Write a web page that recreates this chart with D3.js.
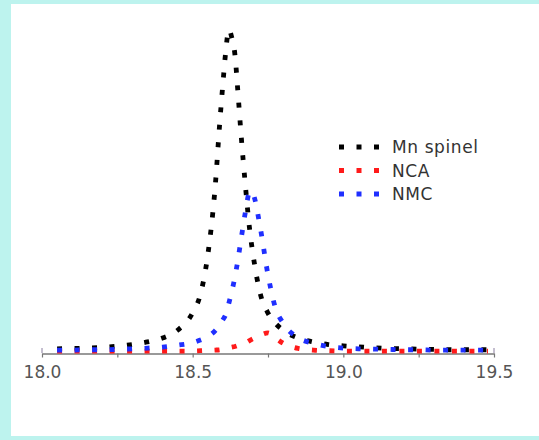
<!DOCTYPE html>
<html>
<head>
<meta charset="utf-8">
<script src="https://cdn.jsdelivr.net/npm/d3@7"></script>
<style>
  html, body { margin: 0; padding: 0; background: #bdf3ee; }
  svg { display: block; }
</style>
</head>
<body>
<svg id="chart" width="539" height="440"></svg>
<script>
// diffraction angle (x) shared by all three series
const xValues = [18.05, 18.10, 18.15, 18.20, 18.25, 18.30, 18.35, 18.40, 18.45, 18.50,
  18.525, 18.55, 18.575, 18.59, 18.60, 18.61, 18.62, 18.63, 18.64, 18.65, 18.66, 18.675,
  18.69, 18.70, 18.725, 18.75, 18.775, 18.80, 18.85, 18.90, 18.95, 19.00, 19.05, 19.10,
  19.15, 19.20, 19.25, 19.30, 19.35, 19.40, 19.45, 19.48];

const mnSpinel = [1.3, 1.4, 1.5, 1.7, 2.1, 2.6, 3.4, 4.6, 7.0, 12.4,
  17.8, 30, 51.5, 71, 82.5, 93, 99.5, 97, 92, 80.5, 68, 51.5,
  37.3, 30.5, 18, 12.3, 9.1, 7.0, 4.6, 3.4, 2.6, 2.2, 1.9, 1.6,
  1.4, 1.3, 1.2, 1.1, 1.0, 1.0, 1.0, 1.0];

const nca = [0.6, 0.6, 0.6, 0.6, 0.6, 0.6, 0.6, 0.6, 0.6, 0.6,
  0.7, 0.8, 0.9, 1.0, 1.2, 1.4, 1.6, 1.8, 2.0, 2.3, 2.6, 3.1,
  3.9, 4.4, 5.5, 6.2, 4.6, 3.0, 1.4, 0.9, 0.7, 0.6, 0.6, 0.6,
  0.6, 0.6, 0.6, 0.6, 0.6, 0.6, 0.6, 0.6];

const nmc = [0.9, 0.9, 1.0, 1.0, 1.1, 1.3, 1.5, 1.8, 2.4, 3.2,
  4.0, 5.0, 6.9, 8.7, 10.2, 11.9, 15.3, 19, 23.2, 28.6, 34.6, 43.4,
  49.8, 49.0, 38.2, 24, 13.8, 9.2, 4.7, 3.0, 2.0, 1.5, 1.3, 1.2,
  1.1, 1.0, 1.0, 0.9, 0.9, 0.9, 0.9, 0.9];

const seriesNames = ["Mn spinel", "NCA", "NMC"];
const seriesColors = ["#000000", "#ff1a1a", "#1f2fff"];
const tickValues = [18.0, 18.25, 18.5, 18.75, 19.0, 19.25, 19.5];

const svg = d3.select("#chart");

// white panel inside the cyan frame
svg.append("rect")
  .attr("x", 11).attr("y", 4)
  .attr("width", 528).attr("height", 432)
  .attr("fill", "#ffffff");

const x = d3.scaleLinear().domain([18.0, 19.5]).range([42, 494]);
const y = d3.scaleLinear().domain([0, 100]).range([353, 28]);

// axis
const axis = d3.axisBottom(x)
  .tickValues(tickValues)
  .tickSize(4)
  .tickSizeOuter(0)
  .tickFormat(d => (Math.round(d * 100) % 50 === 0) ? d3.format(".1f")(d) : "");

const gAxis = svg.append("g")
  .attr("transform", "translate(0,353.5)")
  .call(axis);

gAxis.select(".domain").attr("stroke", "#777").attr("stroke-width", 1.5);
gAxis.selectAll(".tick line").attr("stroke", "#777").attr("stroke-width", 1.2);
gAxis.selectAll(".tick text")
  .attr("fill", "#555")
  .attr("y", 12)
  .style("font-family", "'DejaVu Sans', sans-serif")
  .style("font-size", "17px");

// small upright marks at both ends of the axis
svg.selectAll(".endTick").data([18.0, 19.5]).enter().append("line")
  .attr("class", "endTick")
  .attr("x1", d => x(d)).attr("x2", d => x(d))
  .attr("y1", 348).attr("y2", 353)
  .attr("stroke", "#8a7fa0").attr("stroke-width", 1);

const line = d3.line()
  .x((d, i) => x(xValues[i]))
  .y(d => y(d))
  .curve(d3.curveMonotoneX);

const dash = "5,12.5";

[mnSpinel, nca, nmc].forEach((vals, k) => {
  svg.append("path")
    .datum(vals)
    .attr("d", line)
    .attr("fill", "none")
    .attr("stroke", seriesColors[k])
    .attr("stroke-width", 4.8)
    .attr("stroke-dasharray", dash);
});

// legend
const legend = svg.append("g").attr("transform", "translate(339,147)");
const rows = legend.selectAll("g").data(seriesNames).enter().append("g")
  .attr("transform", (d, i) => "translate(0," + (i * 23.5) + ")");

rows.append("line")
  .attr("x1", 0).attr("x2", 42)
  .attr("y1", 0).attr("y2", 0)
  .attr("stroke", (d, i) => seriesColors[i])
  .attr("stroke-width", 4.8)
  .attr("stroke-dasharray", dash);

rows.append("text")
  .attr("x", 53).attr("y", 0)
  .attr("dy", "0.36em")
  .attr("fill", "#333")
  .style("font-family", "'DejaVu Sans', sans-serif")
  .style("font-size", "17px")
  .style("letter-spacing", "0.6px")
  .text(d => d);
</script>
</body>
</html>
